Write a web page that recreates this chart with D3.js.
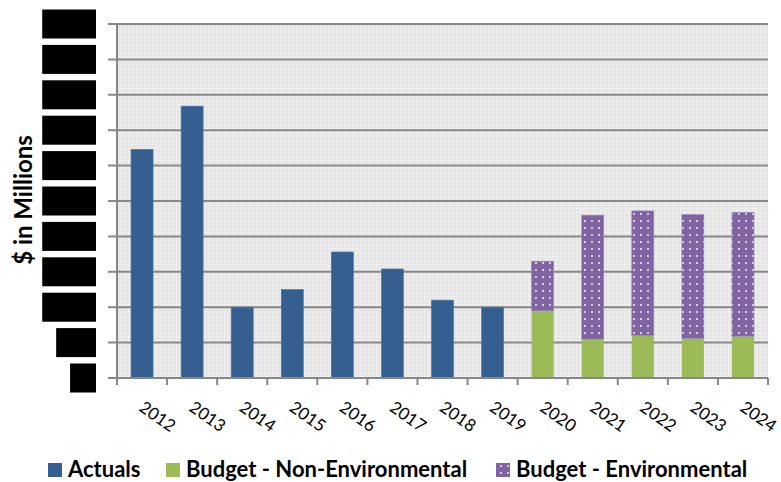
<!DOCTYPE html>
<html>
<head>
<meta charset="utf-8">
<script src="https://cdn.jsdelivr.net/npm/d3@7"></script>
<style>
  html, body { margin: 0; padding: 0; background: #ffffff; }
  svg { display: block; }
</style>
</head>
<body>
<svg id="chart" width="781" height="482"></svg>
<script>
// ---- data ----
const years = ["2012","2013","2014","2015","2016","2017","2018","2019","2020","2021","2022","2023","2024"];
const actuals = [323, 384, 100, 125, 178, 154, 110, 100, null, null, null, null, null];
const budgetNonEnv = [null, null, null, null, null, null, null, null, 95, 55, 60, 56, 59];
const budgetEnv = [null, null, null, null, null, null, null, null, 70, 175, 176, 175, 175];
const yTicks = [0, 50, 100, 150, 200, 250, 300, 350, 400, 450, 500];
const seriesNames = ["Actuals", "Budget - Non-Environmental", "Budget - Environmental"];

(function () {
const svg = d3.select("#chart");
const pLeft = 117, pRight = 768, pTop = 24, pBottom = 378;
const colors = { actual: "#365f91", nonEnv: "#9bbb59", env: "#8064a2" };

const x = d3.scaleBand().domain(years).range([pLeft, pRight]).paddingInner(0.56).paddingOuter(0.28);
const y = d3.scaleLinear().domain([0, 500]).range([pBottom, pTop]);

const defs = svg.append("defs");
const bg = defs.append("pattern").attr("id", "bgpat").attr("patternUnits", "userSpaceOnUse")
  .attr("width", 4).attr("height", 4);
bg.append("rect").attr("width", 4).attr("height", 4).attr("fill", "#e5e5e5");
bg.append("rect").attr("x", 0).attr("y", 0).attr("width", 4).attr("height", 1).attr("fill", "#eeeeee");
bg.append("rect").attr("x", 0).attr("y", 0).attr("width", 1).attr("height", 4).attr("fill", "#eeeeee");
const dp = defs.append("pattern").attr("id", "dots").attr("patternUnits", "userSpaceOnUse")
  .attr("width", 7).attr("height", 7);
dp.append("rect").attr("width", 7).attr("height", 7).attr("fill", colors.env);
dp.append("rect").attr("x", 3).attr("y", 3).attr("width", 2).attr("height", 2).attr("fill", "#d6cce4");

svg.append("rect").attr("x", pLeft).attr("y", pTop).attr("width", pRight - pLeft).attr("height", pBottom - pTop)
  .attr("fill", "url(#bgpat)");

const gridColor = "#878787";
svg.append("g").selectAll("line").data(yTicks).join("line")
  .attr("x1", pLeft - 9).attr("x2", pRight)
  .attr("y1", d => y(d)).attr("y2", d => y(d))
  .attr("stroke", gridColor).attr("stroke-width", 2);

const step = x.step();
const g = svg.append("g");
years.forEach((yr, i) => {
  if (actuals[i] != null) {
    g.append("rect").attr("x", x(yr)).attr("width", x.bandwidth())
      .attr("y", y(actuals[i])).attr("height", y(0) - y(actuals[i]))
      .attr("fill", colors.actual).attr("stroke", "#4a74a8").attr("stroke-width", 0.6);
  }
  if (budgetNonEnv[i] != null) {
    g.append("rect").attr("x", x(yr)).attr("width", x.bandwidth())
      .attr("y", y(budgetNonEnv[i])).attr("height", y(0) - y(budgetNonEnv[i]))
      .attr("fill", colors.nonEnv);
  }
  if (budgetEnv[i] != null) {
    const base = budgetNonEnv[i] || 0;
    g.append("rect").attr("x", x(yr)).attr("width", x.bandwidth())
      .attr("y", y(base + budgetEnv[i])).attr("height", y(base) - y(base + budgetEnv[i]))
      .attr("fill", "url(#dots)").attr("stroke", "#9a86b8").attr("stroke-width", 0.6);
  }
});

svg.append("line").attr("x1", pLeft).attr("x2", pLeft).attr("y1", pTop).attr("y2", pBottom + 7)
  .attr("stroke", gridColor).attr("stroke-width", 2);
svg.append("line").attr("x1", pLeft - 9).attr("x2", pRight).attr("y1", pBottom).attr("y2", pBottom)
  .attr("stroke", gridColor).attr("stroke-width", 2);
const boundaries = years.map(yr => x(yr) - step * x.paddingOuter()).concat([pRight]);
svg.append("g").selectAll("line").data(boundaries).join("line")
  .attr("x1", d => d).attr("x2", d => d).attr("y1", pBottom).attr("y2", pBottom + 7)
  .attr("stroke", gridColor).attr("stroke-width", 2);

// y tick labels (redacted in the reference: black boxes)
const yl = svg.append("g");
yTicks.forEach(t => {
  const txt = yl.append("text").attr("x", 90).attr("y", y(t)).attr("dy", "0.35em")
    .attr("text-anchor", "end").attr("font-family", "Lato").attr("font-weight", "bold")
    .attr("font-size", 24).attr("fill", "#000").text(d3.format(",")(t));
  const w = txt.node().getComputedTextLength();
  yl.insert("rect", "text").attr("x", 96 - w - 12).attr("y", y(t) - 14.5)
    .attr("width", w + 12).attr("height", 29).attr("fill", "#000");
});

svg.append("g").selectAll("text").data(years).join("text")
  .attr("transform", d => `translate(${x(d) + x.bandwidth() / 2 - 4},${410}) rotate(35)`)
  .attr("font-family", "Lato").attr("font-size", 17).attr("fill", "#000")
  .text(d => d);

svg.append("text").attr("transform", `translate(32,200) rotate(-90)`)
  .attr("text-anchor", "middle").attr("font-family", "Lato").attr("font-weight", "bold")
  .attr("font-size", 24).attr("fill", "#000").text("$ in Millions");

const legendX = [48, 166, 496];
const legendFill = [colors.actual, colors.nonEnv, "url(#dots)"];
const lg = svg.append("g");
seriesNames.forEach((name, i) => {
  lg.append("rect").attr("x", legendX[i]).attr("y", 463).attr("width", 14).attr("height", 14)
    .attr("fill", legendFill[i]);
  lg.append("text").attr("x", legendX[i] + 20).attr("y", 477)
    .attr("font-family", "Lato").attr("font-weight", "bold").attr("font-size", 22)
    .attr("fill", "#000").text(name);
});
})();
</script>
</body>
</html>
